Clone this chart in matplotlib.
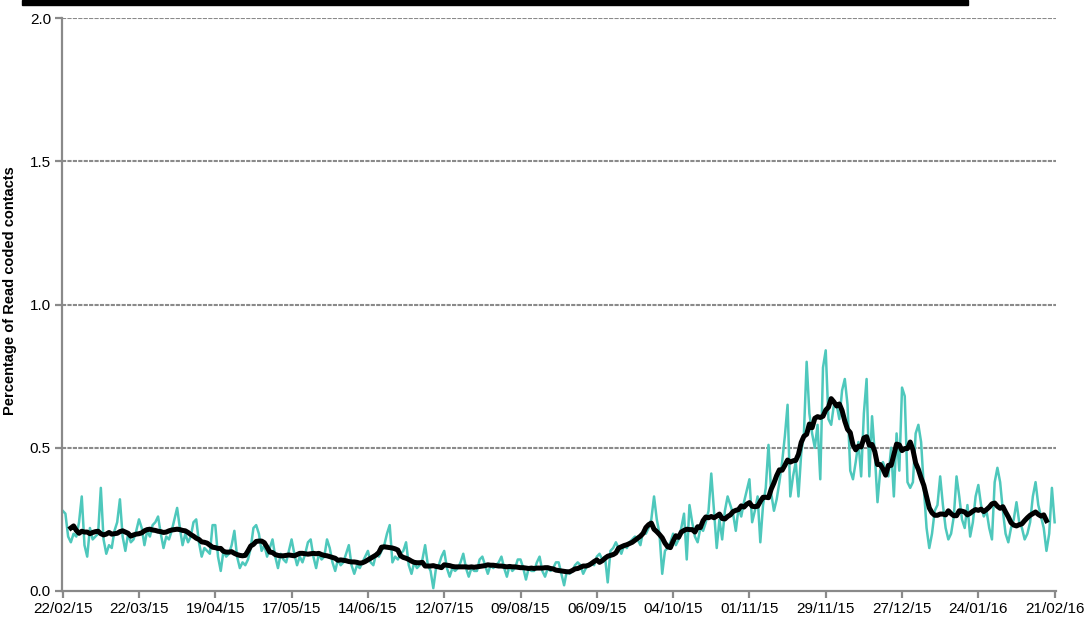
import matplotlib
matplotlib.use("Agg")
import matplotlib.pyplot as plt
import matplotlib.patches as mpatches
import pandas as pd

plt.rcParams['font.family'] = ['Liberation Sans', 'DejaVu Sans']

# ---- data -------------------------------------------------------------
start_date = "2015-02-22"

# daily percentage of Read coded contacts, 22/02/15 onwards
daily_pct = [
    0.28, 0.27, 0.19, 0.17, 0.20, 0.19, 0.24,
    0.33, 0.16, 0.12, 0.22, 0.18, 0.19, 0.20,
    0.36, 0.18, 0.13, 0.16, 0.15, 0.21, 0.24,
    0.32, 0.19, 0.14, 0.20, 0.17, 0.18, 0.21,
    0.25, 0.22, 0.16, 0.21, 0.19, 0.23, 0.24,
    0.26, 0.20, 0.15, 0.19, 0.18, 0.21, 0.25,
    0.29, 0.22, 0.16, 0.20, 0.17, 0.19, 0.24,
    0.25, 0.17, 0.12, 0.15, 0.14, 0.13, 0.23,
    0.23, 0.12, 0.07, 0.14, 0.12, 0.13, 0.16,
    0.21, 0.12, 0.08, 0.10, 0.09, 0.11, 0.15,
    0.22, 0.23, 0.20, 0.14, 0.16, 0.12, 0.15,
    0.18, 0.12, 0.08, 0.13, 0.11, 0.10, 0.14,
    0.18, 0.13, 0.09, 0.12, 0.10, 0.13, 0.17,
    0.18, 0.12, 0.08, 0.13, 0.11, 0.12, 0.18,
    0.15, 0.10, 0.07, 0.11, 0.09, 0.10, 0.13,
    0.16, 0.09, 0.06, 0.09, 0.08, 0.10, 0.12,
    0.14, 0.10, 0.09, 0.13, 0.12, 0.14, 0.16,
    0.20, 0.23, 0.10, 0.12, 0.11, 0.13, 0.14,
    0.17, 0.09, 0.06, 0.10, 0.08, 0.09, 0.11,
    0.16, 0.09, 0.07, 0.01, 0.08, 0.09, 0.12,
    0.14, 0.08, 0.05, 0.08, 0.07, 0.08, 0.10,
    0.13, 0.08, 0.05, 0.08, 0.07, 0.07, 0.11,
    0.12, 0.09, 0.06, 0.09, 0.08, 0.09, 0.10,
    0.12, 0.08, 0.05, 0.09, 0.07, 0.08, 0.11,
    0.11, 0.08, 0.04, 0.08, 0.07, 0.07, 0.10,
    0.12, 0.07, 0.05, 0.08, 0.07, 0.08, 0.10,
    0.10, 0.06, 0.02, 0.07, 0.06, 0.07, 0.09,
    0.10, 0.09, 0.06, 0.08, 0.09, 0.10, 0.09,
    0.12, 0.13, 0.11, 0.12, 0.03, 0.14, 0.15,
    0.17, 0.15, 0.13, 0.16, 0.15, 0.17, 0.18,
    0.19, 0.18, 0.16, 0.21, 0.20, 0.22, 0.25,
    0.33, 0.25, 0.20, 0.06, 0.14, 0.15, 0.17,
    0.20, 0.16, 0.18, 0.22, 0.27, 0.11, 0.30,
    0.24, 0.19, 0.17, 0.22, 0.21, 0.24, 0.28,
    0.41, 0.28, 0.15, 0.25, 0.18, 0.28, 0.33,
    0.30, 0.27, 0.21, 0.29, 0.26, 0.31, 0.35,
    0.39, 0.24, 0.28, 0.33, 0.17, 0.30, 0.36,
    0.51, 0.34, 0.28, 0.32, 0.38, 0.45, 0.54,
    0.65, 0.33, 0.40, 0.45, 0.33, 0.48, 0.55,
    0.80, 0.62, 0.55, 0.50, 0.58, 0.39, 0.78,
    0.84, 0.60, 0.58, 0.65, 0.65, 0.60, 0.70,
    0.74, 0.65, 0.42, 0.39, 0.45, 0.52, 0.40,
    0.62, 0.74, 0.40, 0.61, 0.48, 0.31, 0.42,
    0.45, 0.42, 0.40, 0.50, 0.33, 0.55, 0.42,
    0.71, 0.68, 0.38, 0.36, 0.38, 0.55, 0.58,
    0.52, 0.36, 0.22, 0.15, 0.20, 0.28, 0.30,
    0.40, 0.30, 0.22, 0.18, 0.20, 0.26, 0.40,
    0.33, 0.25, 0.22, 0.30, 0.19, 0.24, 0.33,
    0.37, 0.30, 0.26, 0.28, 0.22, 0.18, 0.38,
    0.43, 0.38, 0.28, 0.20, 0.17, 0.22, 0.25,
    0.31, 0.24, 0.22, 0.18, 0.20, 0.24, 0.33,
    0.38, 0.30, 0.26, 0.22, 0.14, 0.20, 0.36,
    0.24,
]

y_ticks = [0.0, 0.5, 1.0, 1.5, 2.0]
y_label = "Percentage of Read coded contacts"
tick_step_days = 28

# ---- build ------------------------------------------------------------
dates = pd.date_range(start_date, periods=len(daily_pct), freq="D")
series = pd.Series(daily_pct, index=dates)
moving_avg = series.rolling(7, center=True).mean()

fig = plt.figure(figsize=(10.89, 6.28), dpi=100)
ax = fig.add_axes([62 / 1089, 37 / 628, 994 / 1089, 573 / 628])

grid_col = "#8a8a8a"
for yv in y_ticks[1:]:
    ax.axhline(yv, color=grid_col, lw=1.5, ls=(0, (2, 0.6)), zorder=1)

ax.plot(series.index, series.values, color="#4ec8bc", lw=1.8, zorder=2)
ax.plot(moving_avg.index, moving_avg.values, color="black", lw=3.6, zorder=3,
        solid_joinstyle="round")

ax.set_ylim(0, 2.0)
ax.set_yticks(y_ticks)
ax.set_yticklabels([f"{v:.1f}" for v in y_ticks])

xticks = pd.date_range(start_date, dates[-1], freq=f"{tick_step_days}D")
ax.set_xticks(xticks)
ax.set_xticklabels([d.strftime("%d/%m/%y") for d in xticks])
ax.set_xlim(dates[0] - pd.Timedelta(hours=6), dates[-1] + pd.Timedelta(hours=12))

for s in ["top", "right"]:
    ax.spines[s].set_visible(False)
for s in ["left", "bottom"]:
    ax.spines[s].set_color(grid_col)
    ax.spines[s].set_linewidth(1.6)
ax.tick_params(axis="both", colors=grid_col, length=5, width=1.6,
               labelcolor="black", labelsize=11)
ax.tick_params(axis="y", pad=3)
ax.tick_params(axis="x", pad=3)

ax.set_ylabel(y_label, fontsize=10.5, fontweight="bold")
ax.yaxis.set_label_coords(-0.045, 0.525)

# black title bar fragment at the top
fig.patches.append(mpatches.Rectangle((22 / 1089, 1 - 5 / 628), 946 / 1089, 5 / 628,
                                      transform=fig.transFigure, color="black",
                                      zorder=10))

fig.savefig("out.png", dpi=100)
